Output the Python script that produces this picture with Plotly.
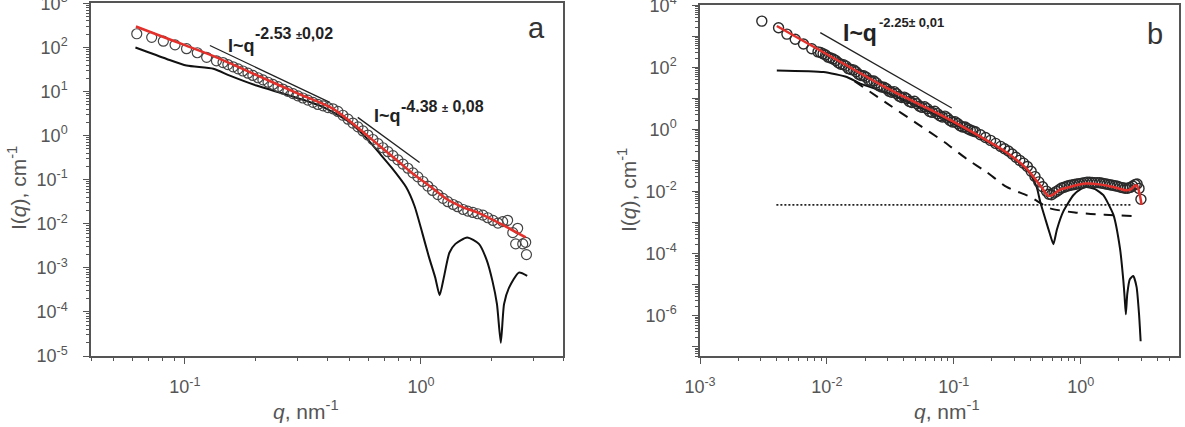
import plotly.graph_objects as go

W, H = 1185, 427

# ---------------- Panel a data ----------------
a_circ_q = [0.0625, 0.0723, 0.081, 0.0908, 0.1016, 0.1128, 0.1236, 0.136,
            0.145, 0.152, 0.160, 0.168, 0.176, 0.185, 0.194, 0.204, 0.214, 0.225,
            0.236, 0.248, 0.260, 0.273, 0.287, 0.301, 0.316, 0.332, 0.349, 0.366,
            0.385, 0.404, 0.424, 0.445, 0.467, 0.491, 0.515, 0.541, 0.568, 0.596,
            0.626, 0.658, 0.690, 0.725, 0.761, 0.799, 0.839, 0.881, 0.925, 0.971,
            1.02, 1.07, 1.12, 1.18, 1.24, 1.30, 1.37, 1.43, 1.51, 1.58,
            1.66, 1.74, 1.83, 1.92, 2.02, 2.12,
            2.22, 2.33, 2.45, 2.52, 2.57, 2.70, 2.78, 2.80]
a_circ_I = [205, 170, 139, 115, 94, 76, 60, 50,
            45.5, 41.0, 36.5, 32.8, 29.3, 26.1, 23.2, 20.6, 18.4, 16.3,
            14.5, 12.9, 11.4, 10.1, 9.0, 8.0, 7.15, 6.4, 5.7, 5.1,
            4.74, 4.34, 4.06, 3.54, 2.90, 2.36, 1.93, 1.58, 1.28, 1.03,
            0.817, 0.656, 0.531, 0.432, 0.351, 0.282, 0.226, 0.182, 0.143, 0.116,
            0.0912, 0.0718, 0.0571, 0.046, 0.0378, 0.0317, 0.0274, 0.0244, 0.0211, 0.0194,
            0.0181, 0.0169, 0.0157, 0.0137, 0.0119, 0.0104,
            0.0112, 0.012, 0.0063, 0.0035, 0.0079, 0.0035, 0.0038, 0.0020]

a_fit_q = [0.062, 0.08, 0.1, 0.136, 0.2, 0.3, 0.423, 0.55, 0.667, 0.8, 0.922,
           1.1, 1.28, 1.5, 1.76, 2.2, 2.78]
a_fit_I = [300, 178, 113, 60, 24, 9.1, 4.1, 1.4, 0.59, 0.263, 0.138,
           0.069, 0.037, 0.024, 0.0175, 0.0097, 0.0049]

a_model_q = [0.0617, 0.0837, 0.1016, 0.132, 0.155, 0.201, 0.278, 0.384, 0.5, 0.58,
             0.667, 0.75, 0.865, 0.94, 1.016, 1.08, 1.15, 1.2, 1.25, 1.32, 1.4,
             1.57, 1.76, 1.9, 2.01, 2.1, 2.18, 2.25, 2.36, 2.6, 2.82]
a_model_I = [100, 55, 39, 33, 23, 13.7, 8.1, 4.5, 2.0, 0.95,
             0.40, 0.19, 0.068, 0.025, 0.0059, 0.0018, 6e-4, 2.4e-4, 6e-4, 0.0022, 0.0035,
             0.0049, 0.0035, 0.0015, 5e-4, 1.5e-4, 2e-5, 1.5e-4, 3.5e-4, 7.8e-4, 6.6e-4]

a_guide1_q = [0.1276, 0.411]
a_guide1_I = [111, 5.7]
a_guide2_q = [0.54, 0.987]
a_guide2_I = [2.6, 0.247]

# ---------------- Panel b data ----------------
b_circ_q = [0.00307, 0.00416, 0.00484, 0.00563, 0.00654, 0.0076, 0.00851, 0.00933,
            0.01023, 0.01122, 0.0123, 0.01349, 0.01479, 0.01622, 0.01778, 0.0195,
            0.02138, 0.02344, 0.0257, 0.02818, 0.0309, 0.03388, 0.03715, 0.04074,
            0.04467, 0.04898, 0.0537, 0.05888, 0.06457, 0.07079, 0.07762, 0.08511,
            0.09333, 0.1023, 0.1122, 0.123, 0.1349, 0.1479, 0.1622, 0.1778, 0.195,
            0.2138, 0.2344, 0.2512, 0.2692, 0.2884, 0.309, 0.3311, 0.3548, 0.3802,
            0.4074, 0.4365, 0.4677, 0.5012, 0.537, 0.5623, 0.5888, 0.6166, 0.6457,
            0.6761, 0.7079, 0.7413, 0.7762, 0.8128, 0.8511, 0.8913, 0.9333, 0.9772,
            1.023, 1.072, 1.122, 1.175, 1.23, 1.288, 1.349, 1.413, 1.479, 1.549,
            1.622, 1.698, 1.778, 1.862, 1.95, 2.042, 2.138, 2.239, 2.344, 2.455,
            2.57, 2.692, 2.786, 2.884, 2.985]
b_circ_I = [3100, 1900, 1180, 810, 566, 398, 316, 275,
            214, 186, 141, 123, 91.2, 83.2, 60.3, 53.7,
            38.9, 36.3, 25.7, 22.9, 17.0, 16.6, 11.7, 11.0,
            7.94, 8.13, 5.62, 5.37, 3.80, 3.85, 2.75, 2.69,
            1.95, 1.78, 1.32, 1.20, 0.955, 0.843, 0.676, 0.553, 0.444,
            0.355, 0.284, 0.240, 0.202, 0.161, 0.127, 0.101, 0.082, 0.0638,
            0.045, 0.0303, 0.0204, 0.0142, 0.0103, 0.0082, 0.00785, 0.00902, 0.0101,
            0.0114, 0.0130, 0.0138, 0.0147, 0.0156, 0.0162, 0.0169, 0.0174, 0.0180,
            0.0186, 0.0194, 0.0200, 0.0198, 0.0196, 0.0194, 0.0193, 0.0191, 0.0184, 0.0178,
            0.0172, 0.0165, 0.0160, 0.0154, 0.0147, 0.0139, 0.0133, 0.0127, 0.0127, 0.0136,
            0.0150, 0.0168, 0.0174, 0.0126, 0.0056]

# interleaved points in the dense middle range of panel b
b_circ2_q = [0.00891, 0.00977, 0.01072, 0.01175, 0.01288, 0.01413, 0.01549, 0.01698,
             0.01862, 0.02042, 0.02239, 0.02455, 0.02692, 0.02951, 0.03236, 0.03548,
             0.0389, 0.04266, 0.04677, 0.05129, 0.05623, 0.06166, 0.06761, 0.07413,
             0.08128, 0.08913, 0.09772, 0.1072, 0.1175, 0.1288, 0.1413]
b_circ2_I = [302, 251, 200, 166, 126, 110, 85.1, 72.4,
             55.0, 47.9, 36.3, 31.6, 23.4, 20.4, 15.8, 14.1,
             10.7, 9.77, 7.41, 6.76, 5.13, 4.68, 3.55, 3.24,
             2.51, 2.34, 1.74, 1.55, 1.20, 1.05, 0.891]

b_fit_q = [0.00403, 0.01, 0.03, 0.078, 0.1426, 0.261, 0.376, 0.479, 0.556, 0.59,
           0.69, 0.824, 1.0, 1.11, 1.4, 1.81, 2.1, 2.3, 2.5, 2.65, 2.76, 2.85, 2.95, 3.02]
b_fit_I = [2150, 265, 21, 3.0, 0.786, 0.18, 0.054, 0.0158, 0.0072, 0.0075,
           0.0115, 0.0141, 0.0172, 0.018, 0.0170, 0.0140, 0.0118, 0.011, 0.012, 0.0150,
           0.0158, 0.012, 0.0065, 0.0037]

b_model_q = [0.00403, 0.0094, 0.01436, 0.0183, 0.03, 0.06, 0.1, 0.2, 0.3, 0.4, 0.45,
             0.48, 0.53, 0.57, 0.61, 0.65, 0.73, 0.875, 1.0, 1.11, 1.3, 1.51, 1.81,
             2.04, 2.17, 2.22, 2.27, 2.33, 2.44, 2.6, 2.76, 2.89, 2.97]
b_model_I = [80, 71, 49, 30, 15, 4.2, 1.55, 0.33, 0.115, 0.037, 0.014,
             0.0047, 0.0012, 4.5e-4, 2.0e-4, 6e-4, 0.0023, 0.0076, 0.012, 0.014, 0.012, 0.0076, 0.0018,
             1.5e-4, 1.35e-5, 4e-6, 1.1e-6, 5e-6, 1.5e-5, 1.9e-5, 8.3e-6, 1.0e-6, 1.5e-7]

b_dash_q = [0.0165, 0.03, 0.05, 0.0853, 0.1265, 0.182, 0.261, 0.398, 0.57, 0.9, 1.2, 2.0, 2.8]
b_dash_I = [36, 6.8, 1.66, 0.38, 0.112, 0.042, 0.014, 0.0068, 0.0029, 0.0021, 0.0019, 0.0017, 0.0016]

b_bg_q = [0.004, 2.5]
b_bg_I = [0.0037, 0.0037]

b_guide_q = [0.00887, 0.0964]
b_guide_I = [1320, 4.9]

# tick labels
a_xticks = [0.1, 1]
a_xtext = ["10<sup>-1</sup>", "10<sup>0</sup>"]
a_yticks = [10.0 ** e for e in range(-5, 4)]
a_ytext = ["10<sup>%d</sup>" % e for e in range(-5, 4)]
b_xticks = [10.0 ** e for e in range(-3, 1)]
b_xtext = ["10<sup>%d</sup>" % e for e in range(-3, 1)]
b_yticks = [10.0 ** e for e in range(-7, 5)]
b_ytext = [("10<sup>%d</sup>" % e) if e % 2 == 0 else "" for e in range(-7, 5)]

FONT = "Arial, Liberation Sans, sans-serif"
GRAY = "#555555"
RED = "#e3302b"


def px(x):
    return x / W


def py(y):
    return 1 - y / H


def minor_vals(e0, e1):
    return [m * 10.0 ** e for e in range(e0, e1) for m in range(2, 10)]


fig = go.Figure()

# panel a traces
fig.add_trace(go.Scatter(x=a_model_q, y=a_model_I, mode="lines", line=dict(color="#111", width=2, shape="spline", smoothing=0.6),
                         xaxis="x", yaxis="y", showlegend=False))
fig.add_trace(go.Scatter(x=a_circ_q, y=a_circ_I, mode="markers",
                         marker=dict(symbol="circle-open", size=10, color="#444", line=dict(width=1.2)),
                         xaxis="x", yaxis="y", showlegend=False))
fig.add_trace(go.Scatter(x=a_fit_q, y=a_fit_I, mode="lines", line=dict(color=RED, width=2.5, shape="spline", smoothing=0.8),
                         xaxis="x", yaxis="y", showlegend=False))
fig.add_trace(go.Scatter(x=a_guide1_q, y=a_guide1_I, mode="lines", line=dict(color="#222", width=1.3),
                         xaxis="x", yaxis="y", showlegend=False))
fig.add_trace(go.Scatter(x=a_guide2_q, y=a_guide2_I, mode="lines", line=dict(color="#222", width=1.3),
                         xaxis="x", yaxis="y", showlegend=False))

# panel b traces
fig.add_trace(go.Scatter(x=b_bg_q, y=b_bg_I, mode="lines", line=dict(color="#222", width=1.6, dash="2px,2px"),
                         xaxis="x2", yaxis="y2", showlegend=False))
fig.add_trace(go.Scatter(x=b_dash_q, y=b_dash_I, mode="lines", line=dict(color="#111", width=2, dash="10px,8px", shape="spline", smoothing=0.6),
                         xaxis="x2", yaxis="y2", showlegend=False))
fig.add_trace(go.Scatter(x=b_model_q, y=b_model_I, mode="lines", line=dict(color="#111", width=2, shape="spline", smoothing=0.5),
                         xaxis="x2", yaxis="y2", showlegend=False))
for qq, ii in ((b_circ_q, b_circ_I), (b_circ2_q, b_circ2_I)):
    fig.add_trace(go.Scatter(x=qq, y=ii, mode="markers",
                             marker=dict(symbol="circle-open", size=10, color="#2a2a2a", line=dict(width=1.4)),
                             xaxis="x2", yaxis="y2", showlegend=False))
fig.add_trace(go.Scatter(x=b_fit_q, y=b_fit_I, mode="lines", line=dict(color=RED, width=2.5, shape="spline", smoothing=0.7),
                         xaxis="x2", yaxis="y2", showlegend=False))
fig.add_trace(go.Scatter(x=b_guide_q, y=b_guide_I, mode="lines", line=dict(color="#222", width=1.3),
                         xaxis="x2", yaxis="y2", showlegend=False))


def axis(domain, rng, tickvals, ticktext, minor, anchor, standoff):
    return dict(type="log", domain=domain, range=rng, anchor=anchor,
                tickmode="array", tickvals=tickvals, ticktext=ticktext,
                ticks="outside", ticklen=6, tickwidth=1.3, tickcolor=GRAY,
                showline=True, linecolor=GRAY, linewidth=1.5, mirror=True,
                showgrid=False, zeroline=False, ticklabelstandoff=standoff,
                ticklabeloverflow="allow", automargin=False,
                tickfont=dict(family=FONT, size=18, color=GRAY),
                minor=dict(tickmode="array", tickvals=minor, ticks="outside", ticklen=3,
                           tickwidth=1, tickcolor=GRAY, showgrid=False))


fig.update_layout(
    width=W, height=H, margin=dict(l=0, r=0, t=0, b=0, pad=0, autoexpand=False),
    paper_bgcolor="white", plot_bgcolor="white",
    xaxis=axis([px(91), px(563)], [-1.398, 0.602], a_xticks, a_xtext, minor_vals(-2, 1), "y", 8),
    yaxis=axis([py(356), py(3)], [-5, 3.01], a_yticks, a_ytext, minor_vals(-5, 3), "x", 12),
    xaxis2=axis([px(700), px(1179)], [-3, 0.775], b_xticks, b_xtext, minor_vals(-3, 1), "y2", 8),
    yaxis2=axis([py(356), py(5)], [-7.3, 4.01], b_yticks, b_ytext, minor_vals(-8, 4), "x2", 12),
)

ann = []


def text(x, y, s, size, xanchor="left", angle=0, color="#222"):
    ann.append(dict(x=px(x), y=py(y), xref="paper", yref="paper", text=s, showarrow=False,
                    xanchor=xanchor, yanchor="middle", textangle=angle,
                    font=dict(family=FONT, size=size, color=color)))


# axis titles
text(17, 188, "I(<i>q</i>), cm<sup>-1</sup>", 21, "center", -90, color=GRAY)
text(627, 190, "I(<i>q</i>), cm<sup>-1</sup>", 21, "center", -90, color=GRAY)
text(306, 410, "<i>q</i>, nm<sup>-1</sup>", 21, "center", color=GRAY)
text(947, 410, "<i>q</i>, nm<sup>-1</sup>", 21, "center", color=GRAY)

# panel letters
text(536, 28, "a", 29, "center", color="#333")
text(1155, 34, "b", 29, "center", color="#333")

# power-law annotations
text(226, 46, "<b>I~q</b>", 18)
text(253, 34, "<b>-2.53 <span style='font-size:11px'>±</span>0,02</b>", 16)
text(372, 116, "<b>I~q</b>", 18)
text(399, 106, "<b>-4.38 <span style='font-size:11px'>±</span> 0,08</b>", 16)
text(841, 33, "<b>I~q</b>", 23)
text(877, 22, "<b>-2.25<span style='font-size:12px'>±</span> 0,01</b>", 13)

fig.update_layout(annotations=ann)

fig.write_html("out.html",
               post_script="document.body.style.margin='0px';document.body.style.overflow='hidden';")
